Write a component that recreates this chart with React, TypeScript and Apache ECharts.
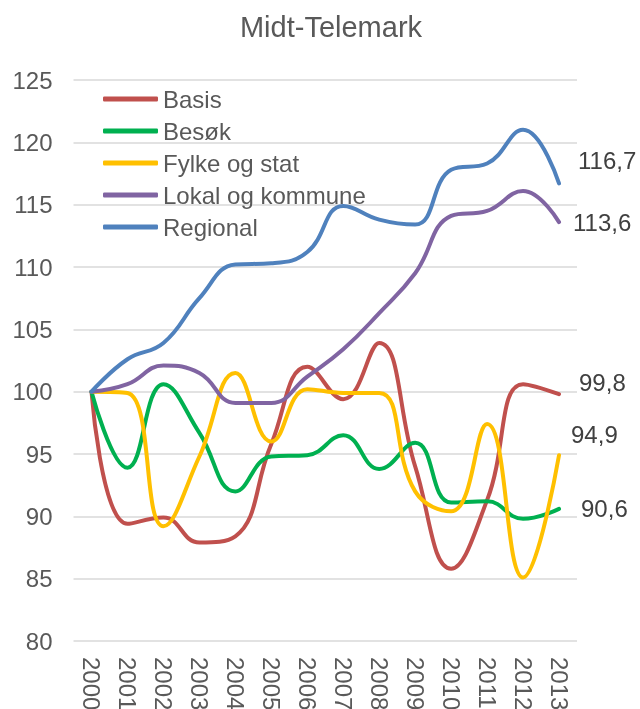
import React, { useEffect, useRef } from "react";
import * as echarts from "echarts";

const years = ["2000","2001","2002","2003","2004","2005","2006","2007","2008","2009","2010","2011","2012","2013"];
const basis = [100, 89.4, 89.9, 87.9, 88.4, 95.8, 102.0, 99.4, 103.9, 94.0, 85.8, 91.3, 100.6, 99.8];
const besok = [100, 93.9, 100.6, 96.7, 92.0, 94.8, 94.9, 96.5, 93.8, 95.9, 91.1, 91.2, 89.8, 90.6];
const fylke = [100, 99.9, 89.2, 94.8, 101.5, 96.0, 100.2, 99.9, 99.9, 92.0, 90.4, 97.4, 85.1, 94.9];
const lokal = [100, 100.6, 102.1, 101.5, 99.1, 99.1, 101.2, 103.4, 106.3, 109.5, 114.1, 114.5, 116.1, 113.6];
const regional = [100, 102.6, 103.9, 107.5, 110.2, 110.3, 111.2, 114.9, 113.8, 113.4, 117.8, 118.3, 121.0, 116.7];

const seriesNames = ["Basis", "Besøk", "Fylke og stat", "Lokal og kommune", "Regional"];
const seriesColors = ["#C0504D", "#00B050", "#FFC000", "#8064A2", "#4F81BD"];
const seriesData = [basis, besok, fylke, lokal, regional];
const endOffsets: number[][] = [[8, -12], [10, 0], [0, -21], [2, 0], [7, -23]];

const FONT = "'Liberation Sans', Arial, sans-serif";

export default function App() {
  const ref = useRef<HTMLDivElement>(null);
  useEffect(() => {
    if (!ref.current) return;
    const chart = echarts.init(ref.current, null, { renderer: "svg" });
    const fmt = (v: number) => v.toFixed(1).replace(".", ",");
    chart.setOption({
      animation: false,
      textStyle: { fontFamily: FONT },
      title: {
        text: "Midt-Telemark",
        left: 331,
        textAlign: "center",
        top: 12,
        padding: 0,
        textStyle: { fontFamily: FONT, fontSize: 29, fontWeight: "normal", color: "#595959" },
      },
      legend: {
        orient: "vertical",
        left: 103,
        top: 87,
        padding: 0,
        itemWidth: 55,
        itemHeight: 5,
        itemGap: 8,
        icon: "roundRect",
        data: seriesNames,
        textStyle: { fontFamily: FONT, fontSize: 24, color: "#595959" },
      },
      grid: { left: 73.5, right: 63, top: 80, bottom: 68, containLabel: false, outerBoundsMode: "none" },
      xAxis: {
        type: "category",
        data: years,
        boundaryGap: true,
        axisLine: { show: false },
        axisTick: { show: false },
        axisLabel: { rotate: -90, fontSize: 24, color: "#595959", margin: 16, fontFamily: FONT },
      },
      yAxis: {
        type: "value",
        min: 80,
        max: 125,
        interval: 5,
        axisLine: { show: false },
        axisTick: { show: false },
        axisLabel: { fontSize: 24, color: "#595959", margin: 21, fontFamily: FONT },
        splitLine: { lineStyle: { color: "#D9D9D9", width: 1.5 } },
      },
      series: seriesNames.map((name, i) => ({
        name,
        type: "line",
        smooth: 0.45,
        symbol: "none",
        lineStyle: { width: 4, color: seriesColors[i], cap: "round" },
        itemStyle: { color: seriesColors[i] },
        endLabel: {
          show: true,
          distance: 12,
          offset: endOffsets[i],
          formatter: (p: any) => fmt(p.value),
          fontSize: 24,
          color: "#404040",
          fontFamily: FONT,
        },
        data: seriesData[i],
      })),
    });
    return () => chart.dispose();
  }, []);
  return <div ref={ref} style={{ position: "fixed", left: 0, top: 0, width: 640, height: 709 }} />;
}
